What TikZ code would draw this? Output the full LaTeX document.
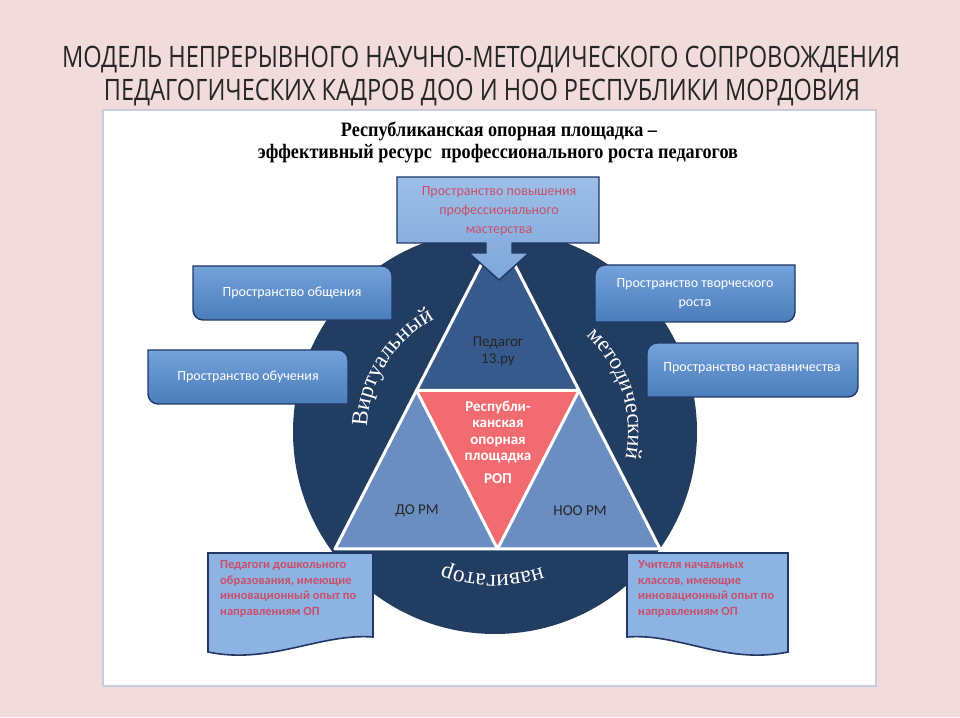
\documentclass[tikz,border=0pt]{standalone}
\usepackage{graphicx}
\usepackage{fontspec}
\setmainfont{Liberation Serif}
\newfontfamily\carl{Carlito}
\newfontfamily\titlefont{Open Sans}
\newfontfamily\curvefont{Liberation Serif}
\usetikzlibrary{decorations.text}
\definecolor{bgpink}{HTML}{F2DCDB}
\definecolor{panelborder}{HTML}{C6CEDD}
\definecolor{navy}{HTML}{223D62}
\definecolor{topblue}{HTML}{365A8C}
\definecolor{sideblue}{HTML}{6A8DC2}
\definecolor{ropred}{HTML}{F16B70}
\definecolor{boxlight}{HTML}{74A2DA}
\definecolor{boxdark}{HTML}{4A7DBB}
\definecolor{boxedge}{HTML}{1F3864}
\definecolor{paleblue}{HTML}{8DB3E2}
\definecolor{calltop}{HTML}{9DBFE8}
\definecolor{callbot}{HTML}{7EA6D9}
\definecolor{rosetext}{HTML}{C9506C}
\definecolor{titlecol}{HTML}{262626}
\begin{document}
\begin{tikzpicture}[x=1pt,y=1pt,
  sidebox/.style={draw=boxedge, line width=1.4pt, top color=boxlight, bottom color=boxdark},
  boxtext/.style={text=white, font=\carl\fontsize{14}{19}\selectfont, align=center, inner sep=0pt},
  docbox/.style={draw=boxedge, line width=1.6pt, fill=paleblue},
  doctext/.style={text=rosetext, font=\carl\bfseries\fontsize{12.5}{15.7}\selectfont, align=left, anchor=north west, inner sep=0pt},
  triline/.style={draw=white, line width=3pt, line join=round},
  tritext/.style={font=\carl\fontsize{15}{17}\selectfont, align=center, inner sep=0pt},
  curved/.style={decorate, decoration={text along path, text align=center, text color=white}},
  callout/.style={draw=boxedge, line width=1.4pt, top color=calltop, bottom color=callbot},
]
\fill[bgpink] (0,0) rectangle (960,717);
\useasboundingbox (0,0) rectangle (960,717);
\draw[draw=panelborder, line width=2pt, fill=white] (103,31) rectangle (876,607);

% titles
\node[anchor=base, inner sep=0pt, text=titlecol] (title1) at (481,649)
  {\resizebox{838pt}{\height}{\titlefont\fontsize{29.5}{29.5}\selectfont МОДЕЛЬ НЕПРЕРЫВНОГО НАУЧНО-МЕТОДИЧЕСКОГО СОПРОВОЖДЕНИЯ}};
\node[anchor=base, inner sep=0pt, text=titlecol] (title2) at (482,616)
  {\resizebox{756pt}{\height}{\titlefont\fontsize{29.5}{29.5}\selectfont ПЕДАГОГИЧЕСКИХ КАДРОВ ДОО И НОО РЕСПУБЛИКИ МОРДОВИЯ}};

\node[anchor=base, inner sep=0pt] (head1) at (499,580)
  {\resizebox{316pt}{\height}{\fontsize{20.5}{20.5}\selectfont\bfseries Республиканская опорная площадка –}};
\node[anchor=base, inner sep=0pt] (head2) at (498,558)
  {\resizebox{480pt}{\height}{\fontsize{20.5}{20.5}\selectfont\bfseries эффективный ресурс\ \ профессионального роста педагогов}};

% circle
\coordinate (cc) at (495,285);
\fill[navy] (cc) circle[radius=202];

% triangle
\coordinate (A) at (498,485);
\coordinate (B) at (335,168);
\coordinate (C) at (660,168);
\coordinate (AB) at (416.5,326.5);
\coordinate (AC) at (579,326.5);
\coordinate (BC) at (497.5,168);
\fill[topblue] (A) -- (AB) -- (AC) -- cycle;
\fill[sideblue] (AB) -- (B) -- (BC) -- cycle;
\fill[sideblue] (AC) -- (BC) -- (C) -- cycle;
\fill[ropred] (AB) -- (AC) -- (BC) -- cycle;
\draw[triline] (A) -- (B) -- (C) -- cycle;
\draw[triline] (AB) -- (AC) -- (BC) -- cycle;

\node[tritext, text=black!85] (ped) at (498,366) {Педагог\\13.ру};
\node[tritext, text=white, font=\carl\bfseries\fontsize{15}{16.5}\selectfont] (rop) at (498,285) {Республи-\\канская\\опорная\\площадка};
\node[tritext, text=white, font=\carl\bfseries\fontsize{15}{16.5}\selectfont] (ropab) at (498,238) {РОП};
\node[tritext, text=black!85] (dorm) at (417,206) {ДО РМ};
\node[tritext, text=black!85] (noorm) at (580,206) {НОО РМ};

% curved words
\path[curved, decoration={text={|\curvefont\fontsize{23}{23}\selectfont|Виртуальный}}]
  ([shift={(190:128)}]cc) arc[start angle=190, end angle=106, radius=128];
\path[curved, decoration={text={|\curvefont\fontsize{22.5}{22.5}\selectfont|методический}}]
  ([shift={(62:133)}]cc) arc[start angle=62, end angle=-27, radius=133];
\path[curved, decoration={text={|\curvefont\fontsize{23.5}{23.5}\selectfont|навигатор}}]
  ([shift={(312:143)}]cc) arc[start angle=312, end angle=226, radius=143];

% side boxes (left: rounded top-right and bottom-left)
\draw[sidebox] (193,451) -- (382,451) arc[start angle=90, end angle=0, radius=10] -- (392,397) -- (203,397) arc[start angle=270, end angle=180, radius=10] -- cycle;
\node[boxtext] (obsh) at (292,424) {Пространство общения};
\draw[sidebox] (148,367) -- (338,367) arc[start angle=90, end angle=0, radius=10] -- (348,313) -- (158,313) arc[start angle=270, end angle=180, radius=10] -- cycle;
\node[boxtext] (obuch) at (248,340) {Пространство обучения};
% right boxes (rounded top-left and bottom-right)
\draw[sidebox] (605,452) -- (795,452) -- (795,405) arc[start angle=0, end angle=-90, radius=10] -- (595,395) -- (595,442) arc[start angle=180, end angle=90, radius=10] -- cycle;
\node[boxtext] (tvor) at (695,423.5) {Пространство творческого\\роста};
\draw[sidebox] (657,374) -- (858,374) -- (858,330) arc[start angle=0, end angle=-90, radius=10] -- (647,320) -- (647,364) arc[start angle=180, end angle=90, radius=10] -- cycle;
\node[boxtext] (nast) at (752,349) {Пространство наставничества};

% top callout
\draw[callout] (397,540) -- (599,540) -- (599,474) -- (512,474) -- (512,464) -- (529,464) -- (499,437) -- (469,464) -- (486,464) -- (486,474) -- (397,474) -- cycle;
\node[boxtext, text=rosetext] (pov) at (499,506) {Пространство повышения\\профессионального\\мастерства};

% bottom document boxes
\draw[docbox] (208,164) -- (373,164) -- (373,80) .. controls (320,84) and (270,52) .. (208,65) -- cycle;
\node[doctext] (dosh) at (220,157) {Педагоги дошкольного\\образования, имеющие\\инновационный опыт по\\направлениям ОП};
\draw[docbox] (627,164) -- (788,164) -- (788,65) .. controls (725,52) and (680,84) .. (627,80) -- cycle;
\node[doctext] (uch) at (638,157) {Учителя начальных\\классов, имеющие\\инновационный опыт по\\направлениям ОП};
\end{tikzpicture}
\end{document}
